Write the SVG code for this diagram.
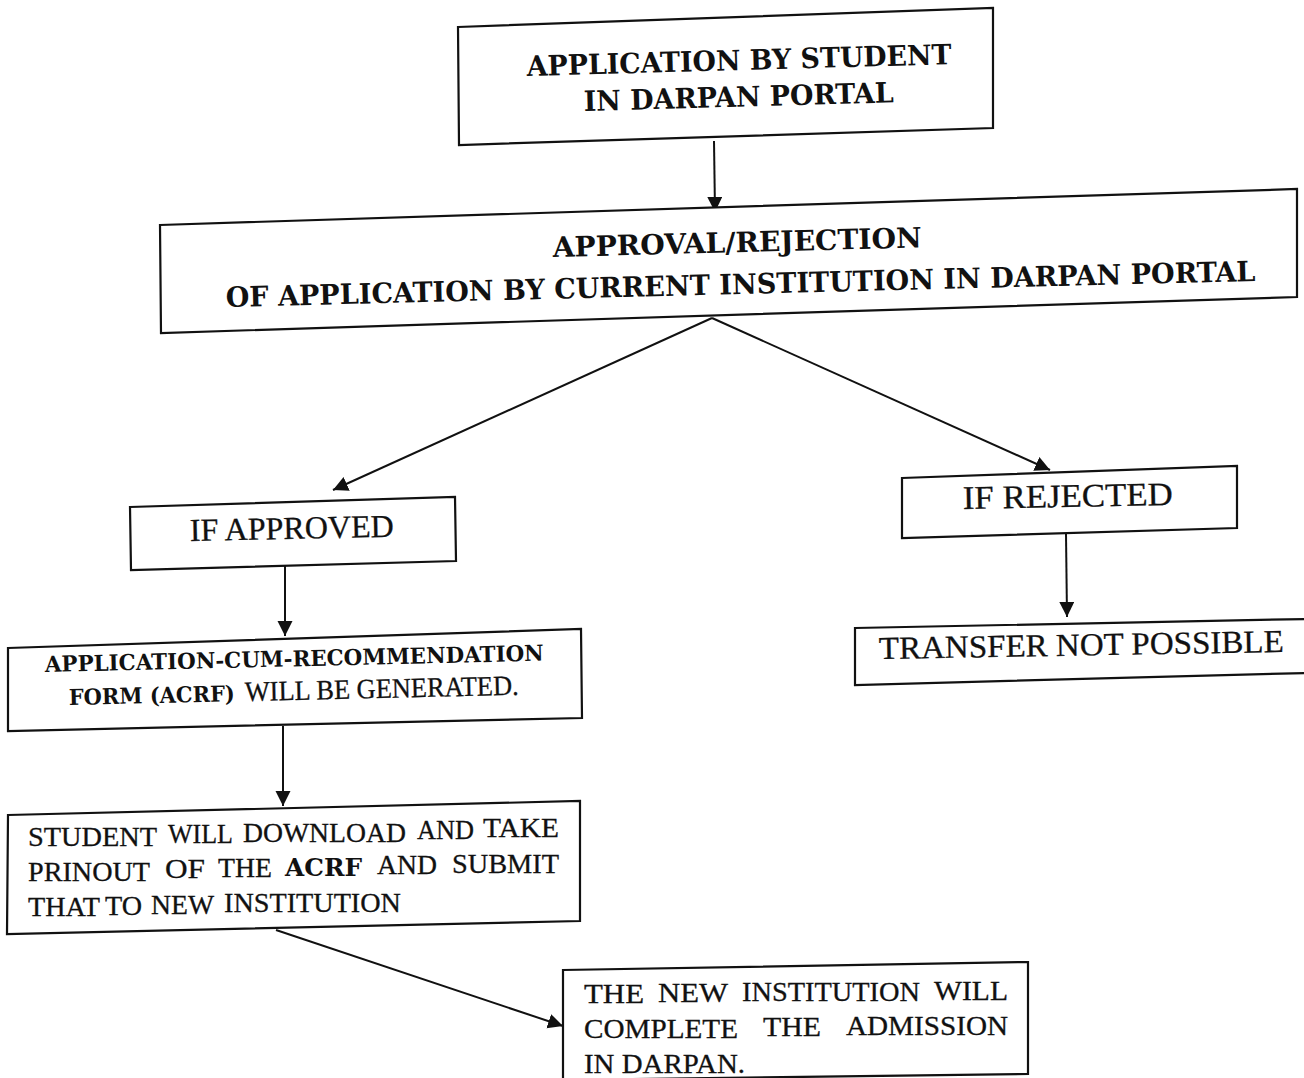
<svg xmlns="http://www.w3.org/2000/svg" width="1304" height="1078" viewBox="0 0 1304 1078">
<style>
.box{fill:#fff;stroke:#111;stroke-width:2.2;stroke-linejoin:miter}
.con{fill:none;stroke:#111;stroke-width:2}
.b{font-family:"DejaVu Serif","Liberation Serif",serif;font-weight:bold;fill:#111}
.r{font-family:"Liberation Serif","DejaVu Serif",serif;fill:#111;stroke:#111;stroke-width:0.3}
.s{font-size:28px}
</style>
<defs>
<marker id="ah" markerUnits="userSpaceOnUse" markerWidth="16" markerHeight="16" refX="15" refY="7.5" orient="auto">
<path d="M0,0 L15,7.5 L0,15 z" fill="#111"/>
</marker>
</defs>
<rect width="1304" height="1078" fill="#fff"/>
<g id="connectors">
<line class="con" x1="714" y1="141" x2="715" y2="212" marker-end="url(#ah)"/>
<line class="con" x1="712" y1="318" x2="333" y2="490" marker-end="url(#ah)"/>
<line class="con" x1="712" y1="318" x2="1050" y2="470" marker-end="url(#ah)"/>
<line class="con" x1="285" y1="566" x2="285" y2="636" marker-end="url(#ah)"/>
<line class="con" x1="283" y1="726" x2="283" y2="806" marker-end="url(#ah)"/>
<line class="con" x1="276" y1="930" x2="563" y2="1026" marker-end="url(#ah)"/>
<line class="con" x1="1066" y1="534" x2="1067" y2="617" marker-end="url(#ah)"/>
</g>
<g id="n1">
<polygon class="box" points="458,27 993,8 993,128 459,145"/>
<text class="b" x="527" y="76" font-size="28" textLength="425" lengthAdjust="spacingAndGlyphs" transform="rotate(-1.6 527 76)">APPLICATION BY STUDENT</text>
<text class="b" x="584" y="111" font-size="28" textLength="310" lengthAdjust="spacingAndGlyphs" transform="rotate(-1.6 584 111)">IN DARPAN PORTAL</text>
</g>
<g id="n2">
<polygon class="box" points="160,225 1297,189 1297,297 161,333"/>
<text class="b" x="553" y="257" font-size="28" textLength="369" lengthAdjust="spacingAndGlyphs" transform="rotate(-1.5 553 257)">APPROVAL/REJECTION</text>
<text class="b" x="226" y="307" font-size="28" textLength="1030" lengthAdjust="spacingAndGlyphs" transform="rotate(-1.45 226 307)">OF APPLICATION BY CURRENT INSTITUTION IN DARPAN PORTAL</text>
</g>
<g id="n3">
<polygon class="box" points="130,507 455,497 456,561 131,570"/>
<text class="r" x="190" y="541" font-size="32" textLength="204" lengthAdjust="spacingAndGlyphs" transform="rotate(-1.2 190 541)">IF APPROVED</text>
</g>
<g id="n4">
<polygon class="box" points="902,478 1237,466 1237,528 902,538"/>
<text class="r" x="963" y="509" font-size="33" textLength="210" lengthAdjust="spacingAndGlyphs" transform="rotate(-1.1 963 509)">IF REJECTED</text>
</g>
<g id="n5">
<polygon class="box" points="855,628 1306,619 1306,673 855,685"/>
<text class="r" x="879" y="659" font-size="32" textLength="405" lengthAdjust="spacingAndGlyphs" transform="rotate(-1 879 659)">TRANSFER NOT POSSIBLE</text>
</g>
<g id="n6">
<polygon class="box" points="8,648 581,629 582,718 8,731"/>
<text class="b" x="45" y="672" font-size="22" textLength="499" lengthAdjust="spacingAndGlyphs" transform="rotate(-1.3 45 672)">APPLICATION-CUM-RECOMMENDATION</text>
<g transform="rotate(-1.3 69 705)">
<text class="b" x="69" y="705" font-size="22" textLength="166" lengthAdjust="spacingAndGlyphs">FORM (ACRF)</text>
<text class="r" x="245" y="705" font-size="28" textLength="274" lengthAdjust="spacingAndGlyphs">WILL BE GENERATED.</text>
</g>
</g>
<g id="n7">
<polygon class="box" points="8,815 580,801 580,921 7,934"/>
<text class="r s" x="28" y="846" textLength="129" lengthAdjust="spacingAndGlyphs">STUDENT</text>
<text class="r s" x="168" y="843.3" textLength="65" lengthAdjust="spacingAndGlyphs">WILL</text>
<text class="r s" x="243" y="841.9" textLength="163" lengthAdjust="spacingAndGlyphs">DOWNLOAD</text>
<text class="r s" x="417" y="838.6" textLength="57" lengthAdjust="spacingAndGlyphs">AND</text>
<text class="r s" x="483" y="837.4" textLength="76" lengthAdjust="spacingAndGlyphs">TAKE</text>
<text class="r s" x="28" y="881" textLength="122" lengthAdjust="spacingAndGlyphs">PRINOUT</text>
<text class="r s" x="165" y="878.4" textLength="40" lengthAdjust="spacingAndGlyphs">OF</text>
<text class="r s" x="218" y="877.4" textLength="54" lengthAdjust="spacingAndGlyphs">THE</text>
<text class="b" x="285" y="876.1" font-size="25" textLength="77" lengthAdjust="spacingAndGlyphs">ACRF</text>
<text class="r s" x="377" y="874.4" textLength="60" lengthAdjust="spacingAndGlyphs">AND</text>
<text class="r s" x="452" y="873" textLength="107" lengthAdjust="spacingAndGlyphs">SUBMIT</text>
<text class="r s" x="28" y="916" textLength="72" lengthAdjust="spacingAndGlyphs">THAT</text>
<text class="r s" x="105" y="914.5" textLength="37" lengthAdjust="spacingAndGlyphs">TO</text>
<text class="r s" x="151" y="913.7" textLength="63" lengthAdjust="spacingAndGlyphs">NEW</text>
<text class="r s" x="224" y="912.3" textLength="177" lengthAdjust="spacingAndGlyphs">INSTITUTION</text>
</g>
<g id="n8">
<polygon class="box" points="563,970 1028,962 1028,1074 563,1080"/>
<text class="r s" x="584" y="1003" textLength="60" lengthAdjust="spacingAndGlyphs">THE</text>
<text class="r s" x="658" y="1002.2" textLength="70" lengthAdjust="spacingAndGlyphs">NEW</text>
<text class="r s" x="742" y="1001.1" textLength="178" lengthAdjust="spacingAndGlyphs">INSTITUTION</text>
<text class="r s" x="934" y="999.5" textLength="74" lengthAdjust="spacingAndGlyphs">WILL</text>
<text class="r s" x="584" y="1038" textLength="154" lengthAdjust="spacingAndGlyphs">COMPLETE</text>
<text class="r s" x="763" y="1036" textLength="58" lengthAdjust="spacingAndGlyphs">THE</text>
<text class="r s" x="846" y="1035" textLength="162" lengthAdjust="spacingAndGlyphs">ADMISSION</text>
<text class="r s" x="584" y="1073" textLength="161" lengthAdjust="spacingAndGlyphs">IN DARPAN.</text>
</g>
</svg>
